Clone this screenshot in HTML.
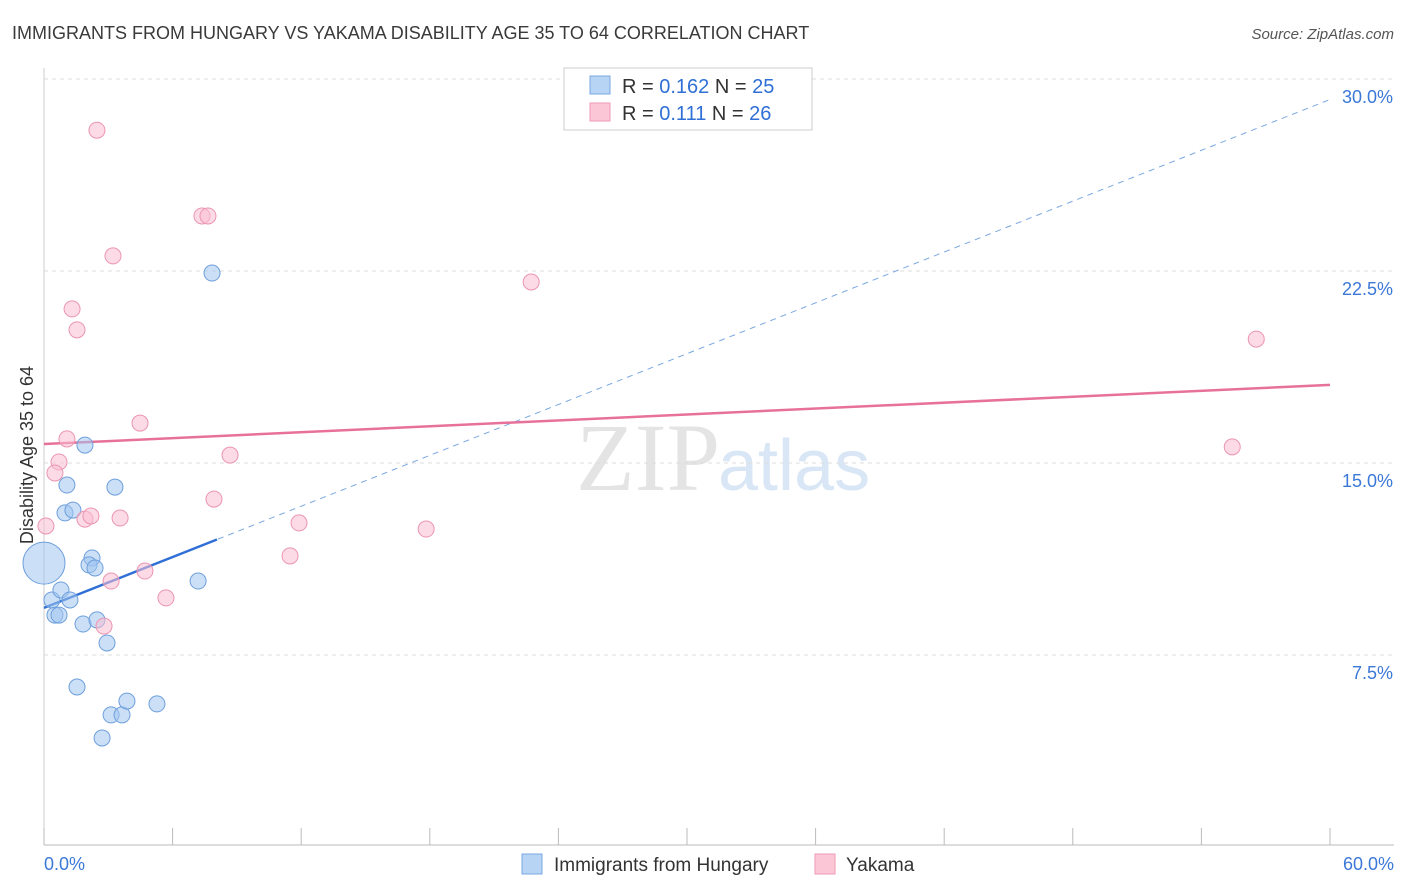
<!DOCTYPE html>
<html><head><meta charset="utf-8">
<style>
body{margin:0;background:#fff;font-family:"Liberation Sans",sans-serif;}
svg{display:block}
</style></head>
<body>
<svg id="chart" width="1406" height="892" xmlns="http://www.w3.org/2000/svg">
<text x="12" y="39" font-size="18" fill="#3a3a3a">IMMIGRANTS FROM HUNGARY VS YAKAMA DISABILITY AGE 35 TO 64 CORRELATION CHART</text>
<text x="1394" y="39" font-size="15" fill="#555" text-anchor="end" font-style="italic">Source: ZipAtlas.com</text>
<text x="720" y="490" font-size="96" fill="#e4e4e4" text-anchor="end" font-family="Liberation Serif">ZIP</text>
<text x="718" y="490" font-size="72" fill="#d9e6f5">atlas</text>
<text transform="translate(33,455) rotate(-90)" font-size="18" fill="#333" text-anchor="middle">Disability Age 35 to 64</text>
<g id="grid"></g><g id="xticks"></g><g id="lines"></g><g id="pts"></g>
<g>
<rect x="564" y="68" width="248" height="62" fill="#fff" stroke="#ccc"/>
<rect x="590" y="76" width="20" height="18" fill="#b8d4f5" stroke="#7aa8e0"/>
<text x="622" y="93" font-size="20" fill="#333">R = <tspan fill="#2f6fd6">0.162</tspan>   N = <tspan fill="#2f6fd6">25</tspan></text>
<rect x="590" y="103" width="20" height="18" fill="#fbc6d6" stroke="#ee9ab4"/>
<text x="622" y="120" font-size="20" fill="#333">R =  <tspan fill="#2f6fd6">0.111</tspan>   N = <tspan fill="#2f6fd6">26</tspan></text>
</g>
<g>
<rect x="522" y="854" width="20" height="20" fill="#b8d4f5" stroke="#7aa8e0"/>
<text x="554" y="871" font-size="19" fill="#333">Immigrants from Hungary</text>
<rect x="815" y="854" width="20" height="20" fill="#fbc6d6" stroke="#ee9ab4"/>
<text x="846" y="871" font-size="19" fill="#333">Yakama</text>
</g>
<text x="44" y="870" font-size="18" fill="#3b78d8">0.0%</text>
<text x="1394" y="870" font-size="18" fill="#3b78d8" text-anchor="end">60.0%</text>
</svg>
<script>
const yTicks=[7.5,15,22.5,30];
const yTickLabels=["7.5%","15.0%","22.5%","30.0%"];
const xTickVals=[0,6,12,18,24,30,36,42,48,54,60];
const hungaryX=[0,0.37,0.51,0.70,0.79,1.21,1.07,0.98,1.35,1.91,2.24,2.10,2.38,1.82,2.47,2.94,3.31,1.54,3.13,3.64,3.87,2.71,5.27,7.19,7.84];
const hungaryY=[11.09,9.65,9.06,9.06,10.04,9.65,14.14,13.05,13.16,15.70,11.29,11.02,10.90,8.71,8.87,7.97,14.06,6.25,5.16,5.16,5.70,4.26,5.59,10.39,22.42];
const yakamaX=[2.47,3.22,7.37,7.65,1.31,1.54,22.73,56.56,4.48,1.07,0.70,0.51,8.68,7.93,55.44,0.09,1.91,2.19,3.55,11.90,17.83,11.48,3.13,4.71,5.69,2.80];
const yakamaY=[28.0,23.09,24.65,24.65,21.02,20.20,22.07,19.84,16.56,15.94,15.04,14.61,15.31,13.59,15.63,12.54,12.81,12.93,12.85,12.66,12.42,11.37,10.39,10.78,9.73,8.63];
const hungaryFit=[9.34,29.2];
const hungaryFitEnd=8.07;
const yakamaFit=[15.74,18.05];
const NS="http://www.w3.org/2000/svg";
const X=v=>44+v*21.433, Y=v=>847-v*25.6;
function mk(t,a,p){const e=document.createElementNS(NS,t);for(const k in a)e.setAttribute(k,a[k]);p.appendChild(e);return e;}
const grid=document.getElementById('grid');
mk('line',{x1:44,x2:1394,y1:845,y2:845,stroke:'#bbb'},grid);
mk('line',{x1:44,x2:44,y1:68,y2:845,stroke:'#ccc'},grid);
yTicks.forEach((t,i)=>{
 const l=mk('line',{x1:44,x2:1394,y1:Y(t),y2:Y(t),stroke:'#ddd','stroke-dasharray':'4,4'},grid);
 
 
 const tx=mk('text',{x:1393,y:Y(t)+24,'font-size':18,fill:'#3b78d8','text-anchor':'end'},grid);
 tx.textContent=yTickLabels[i];
 
 
});
const xt=document.getElementById('xticks');
xTickVals.forEach(v=>{
 const l=mk('line',{x1:X(v),x2:X(v),y1:828,y2:845,stroke:'#bbb'},xt);
 
 
});
const lines=document.getElementById('lines');
let d=mk('line',{x1:X(0),y1:Y(hungaryFit[0]),x2:X(60),y2:Y(hungaryFit[1]),stroke:'#7aa8e0','stroke-width':1,'stroke-dasharray':'6,5'},lines);


const hy=hungaryFit[0]+(hungaryFit[1]-hungaryFit[0])*hungaryFitEnd/60;
d=mk('line',{x1:X(0),y1:Y(hungaryFit[0]),x2:X(hungaryFitEnd),y2:Y(hy),stroke:'#2f6fd6','stroke-width':2.5},lines);


d=mk('line',{x1:X(0),y1:Y(yakamaFit[0]),x2:X(60),y2:Y(yakamaFit[1]),stroke:'#e8719a','stroke-width':2.5},lines);


const pts=document.getElementById('pts');
hungaryX.forEach((x,i)=>{
 const c=mk('circle',{cx:X(x),cy:Y(hungaryY[i]),r:i===0?21:8,fill:'rgba(160,196,240,0.55)',stroke:'#6e9fdc','stroke-width':1},pts);
 
 
});
yakamaX.forEach((x,i)=>{
 const c=mk('circle',{cx:X(x),cy:Y(yakamaY[i]),r:8,fill:'rgba(250,190,210,0.55)',stroke:'#eb95b1','stroke-width':1},pts);
 
 
});
</script>
</body></html>
